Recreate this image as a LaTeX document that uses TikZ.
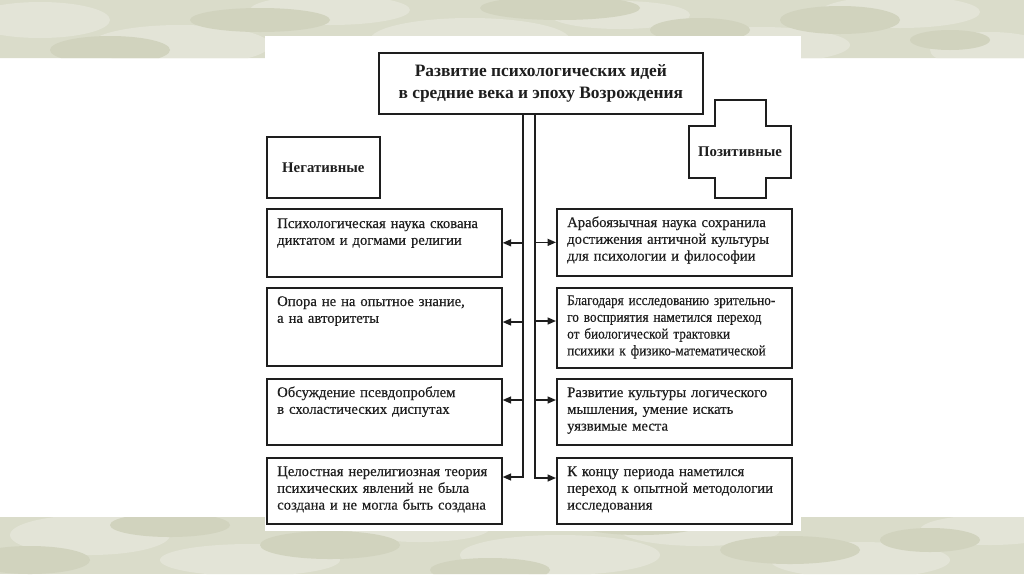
\documentclass[tikz,border=0pt]{standalone}
\usepackage{fontspec}
\setmainfont{Liberation Serif}
\newfontfamily\scanfont[FakeBold=0.4]{Liberation Serif}
\newfontfamily\scancond[FakeBold=0.4,FakeStretch=0.9]{Liberation Serif}
\usetikzlibrary{arrows.meta,calc}
\definecolor{camo}{HTML}{DADCCA}
\definecolor{camoD}{HTML}{D1D3BE}
\definecolor{camoL}{HTML}{E3E4D7}
\definecolor{ink}{HTML}{1E1E1E}
\begin{document}
\begin{tikzpicture}[x=1pt,y=-1pt,
  box/.style={draw=ink, line width=1.7pt, inner sep=0pt, anchor=north west, minimum width=235pt},
  txt/.style={anchor=base west, inner sep=0pt, text width=232pt, align=left, text=ink,
              font=\scanfont\fontsize{14.7}{16.8}\selectfont},
  hdr/.style={inner sep=0pt, text=ink, font=\bfseries\fontsize{14.8}{16}\selectfont},
  arr/.style={draw=ink, line width=1.5pt, -{Triangle[length=8.5pt,width=7pt]}}]
\useasboundingbox (0,0) rectangle (1024,574);
\fill[white] (0,0) rectangle (1024,574);
% camouflage bands
\begin{scope}
  \clip (0,0) rectangle (1024,58) (0,517) rectangle (1024,574);
  \fill[camo] (0,0) rectangle (1024,574);
  \foreach \x/\y/\a/\b in {40/20/70/18, 180/45/90/20, 330/10/80/15, 470/40/100/22, 620/15/70/14,
      760/45/90/18, 900/12/80/16, 990/50/60/18, 90/535/80/20, 250/560/90/16, 420/528/70/14,
      560/555/100/20, 700/530/80/16, 860/560/90/18, 990/530/70/15}
    \fill[camoL] (\x,\y) ellipse[x radius=\a, y radius=\b];
  \foreach \x/\y/\a/\b in {110/50/60/14, 260/20/70/12, 400/52/60/12, 560/8/80/12, 700/30/50/12,
      840/20/60/14, 950/40/40/10, 30/560/60/14, 170/525/60/12, 330/545/70/14, 490/570/60/12,
      640/525/60/10, 790/550/70/14, 930/540/50/12}
    \fill[camoD] (\x,\y) ellipse[x radius=\a, y radius=\b];
\end{scope}
\fill[white] (265,36) rectangle (801,531);

% title
\node[box, minimum width=324pt, minimum height=61pt] (T) at (378,52) {};
\node[hdr, font=\bfseries\fontsize{17.4}{22}\selectfont, align=center, anchor=center] (Tt) at ($(T.center)+(0,0)$)
  {Развитие психологических идей\\в средние века и эпоху Возрождения};

% negative
\node[box, minimum width=113pt, minimum height=61pt] (N) at (266,136) {};
\node[hdr] (Nt) at (N.center) {Негативные};

% positive cross
\draw[ink, line width=1.7pt] (715,100) -- (766,100) -- (766,126) -- (791,126) -- (791,178)
  -- (766,178) -- (766,198) -- (715,198) -- (715,178) -- (689,178) -- (689,126) -- (715,126) -- cycle;
\node[hdr] (Pt) at (740,152) {Позитивные};

% left boxes
\node[box, minimum height=68pt] (L1) at (266,208) {};
\node[box, minimum height=78pt] (L2) at (266,287) {};
\node[box, minimum height=66pt] (L3) at (266,378) {};
\node[box, minimum height=66pt] (L4) at (266,457) {};
\node[txt] (L1t) at ($(L1.north west)+(11,20)$) {Психологическая наука скована\\диктатом и догмами религии};
\node[txt] (L2t) at ($(L2.north west)+(11,19)$) {Опора не на опытное знание,\\а на авторитеты};
\node[txt] (L3t) at ($(L3.north west)+(11,19)$) {Обсуждение псевдопроблем\\в схоластических диспутах};
\node[txt] (L4t) at ($(L4.north west)+(11,19)$) {Целостная нерелигиозная теория\\психических явлений не была\\создана и не могла быть создана};

% right boxes
\node[box, minimum height=67pt] (R1) at (556,208) {};
\node[box, minimum height=80pt] (R2) at (556,287) {};
\node[box, minimum height=66pt] (R3) at (556,378) {};
\node[box, minimum height=66pt] (R4) at (556,457) {};
\node[txt] (R1t) at ($(R1.north west)+(11,19)$) {Арабоязычная наука сохранила\\достижения античной культуры\\для психологии и философии};
\node[txt, font=\scancond\fontsize{14.7}{16.8}\selectfont] (R2t) at ($(R2.north west)+(11,18)$) {Благодаря исследованию зрительно-\\го восприятия наметился переход\\от биологической трактовки\\психики к физико-математической};
\node[txt] (R3t) at ($(R3.north west)+(11,19)$) {Развитие культуры логического\\мышления, умение искать\\уязвимые места};
\node[txt] (R4t) at ($(R4.north west)+(11,19)$) {К концу периода наметился\\переход к опытной методологии\\исследования};

% trunk coordinates
\coordinate (jL) at (523,0);
\coordinate (jR) at (535,0);
\coordinate (aL1) at (L1.east);
\coordinate (aL2) at ($(L2.north east)+(0,35)$);
\coordinate (aL3) at ($(L3.north east)+(0,22)$);
\coordinate (aL4) at ($(L4.north east)+(0,20)$);
\coordinate (aR1) at (R1.west);
\coordinate (aR2) at ($(R2.north west)+(0,34)$);
\coordinate (aR3) at ($(R3.north west)+(0,22)$);
\coordinate (aR4) at ($(R4.north west)+(0,21)$);

\draw[arr] (T.south -| jL) |- (aL4);
\draw[arr] (T.south -| jR) |- (aR4);
\foreach \n in {1,2,3} {
  \draw[arr] (jL |- aL\n) -- (aL\n);
  \draw[arr] (jR |- aR\n) -- (aR\n);
}
\end{tikzpicture}
\end{document}
